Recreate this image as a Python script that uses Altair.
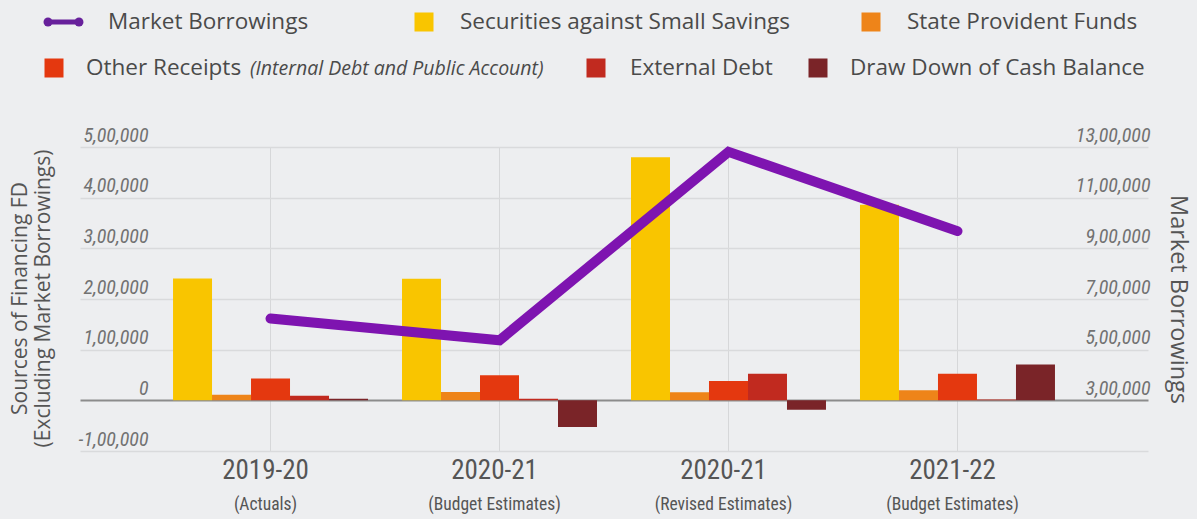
import altair as alt
import pandas as pd

# ---------------- data ----------------
years = ["2019-20", "2020-21", "2020-21", "2021-22"]
stages = ["(Actuals)", "(Budget Estimates)", "(Revised Estimates)", "(Budget Estimates)"]
series = ["Securities against Small Savings", "State Provident Funds", "Other Receipts",
          "External Debt", "Draw Down of Cash Balance"]
securities = [240500, 240000, 480000, 386000]
provident = [11000, 16500, 16000, 19800]
other_receipts = [43000, 49400, 38000, 52700]
external_debt = [9000, 3000, 52700, 1500]
cash_drawdown = [3000, -52700, -18400, 70500]
market_borrowings = [623000, 537000, 1281000, 968000]
left_ticks = [-100000, 0, 100000, 200000, 300000, 400000, 500000]
right_ticks = [300000, 500000, 700000, 900000, 1100000, 1300000]
bar_colors = ["#F9C500", "#EE8419", "#E4380F", "#C12A1F", "#7A2428"]
line_color = "#7E14B0"
legend_line_color = "#67209B"
legend_note = "(Internal Debt and Public Account)"

# ---------------- layout (pixels, relative to plot origin) ----------------
W, H = 1068, 304
row1_y, row2_y = -125, -79
legend_square_x = [344, 791, -26, 516, 738]
legend_square_y = [row1_y, row1_y, row2_y, row2_y, row2_y]
legend_text_x = [380, 827, 6, 550, 770]
legend_line_x = [-32, -1]
legend_mb_text_x = 28
legend_note_x = 170

LBL = "Roboto Condensed, Noto Sans Condensed, Liberation Sans Narrow, DejaVu Sans Condensed, Roboto"
TXT = "Open Sans"

keys = [f"{y} {s}" for y, s in zip(years, stages)]
cat_df = pd.DataFrame({"cat": keys, "year": years, "stage": stages, "mb": market_borrowings})

vals = [securities, provident, other_receipts, external_debt, cash_drawdown]
rows = []
for s, v in zip(series, vals):
    for k, x in zip(keys, v):
        rows.append({"cat": k, "series": s, "value": x})
bar_df = pd.DataFrame(rows)

indian = ("(datum.value < 0 ? '-' : '') + (datum.value == 0 ? '0' : "
          "format(abs(datum.value) / 100000, 'd') + ',00,000')")

x_enc = alt.X(
    "cat:N", sort=keys, title=None,
    scale=alt.Scale(paddingInner=0, paddingOuter=0.332),
    axis=alt.Axis(grid=True, bandPosition=0.5, gridColor="#D6D7D9", domain=False, ticks=False,
                  labelExpr="substring(datum.label, 0, indexof(datum.label, ' ('))",
                  labelFont=LBL, labelFontSize=27, labelColor="#555555", labelAngle=0,
                  labelBaseline="alphabetic", labelPadding=27, labelOffset=-5),
)

bars = alt.Chart(bar_df).mark_bar().encode(
    x=x_enc,
    xOffset=alt.XOffset("series:N", sort=series,
                        scale=alt.Scale(domain=series, paddingInner=0, paddingOuter=0.436)),
    y=alt.Y("value:Q",
            scale=alt.Scale(domain=[-100000, 500000], nice=False),
            axis=alt.Axis(values=left_ticks, labelExpr=indian, grid=True,
                          gridColor={"condition": {"test": "datum.value === 0", "value": "#8C8C8C"},
                                     "value": "#D9DADC"},
                          gridWidth={"condition": {"test": "datum.value === 0", "value": 2},
                                     "value": 1.5},
                          domain=False, ticks=False, tickSize=0,
                          labelFont=LBL, labelFontSize=20, labelFontStyle="italic",
                          labelColor="#727272", labelAlign="right", labelPadding=-68,
                          labelBaseline="alphabetic", labelOffset=-6,
                          title=["Sources of Financing FD", "(Excluding Market Borrowings)"],
                          titleFont=TXT, titleFontSize=21, titleFontWeight="normal",
                          titleColor="#555555", titleLineHeight=23, titleAngle=-90,
                          titleAlign="center", titleBaseline="middle", titleX=-60, titleY=151)),
    color=alt.Color("series:N", scale=alt.Scale(domain=series, range=bar_colors), legend=None),
)

line = alt.Chart(cat_df).mark_line(strokeWidth=10, color=line_color, strokeCap="round",
                                   strokeJoin="miter").encode(
    x=x_enc,
    y=alt.Y("mb:Q",
            scale=alt.Scale(domain=[100000, 1300000], nice=False, zero=False),
            axis=alt.Axis(orient="right", values=right_ticks, labelExpr=indian, grid=False,
                          domain=False, ticks=False, tickSize=0,
                          labelFont=LBL, labelFontSize=20, labelFontStyle="italic",
                          labelColor="#727272", labelAlign="right", labelPadding=2,
                          labelBaseline="alphabetic", labelOffset=-6,
                          title="Market Borrowings", titleFont=TXT, titleFontSize=23.5,
                          titleFontWeight="normal", titleColor="#555555", titleAngle=90,
                          titleAlign="center", titleBaseline="middle", titleX=29, titleY=H / 2)),
)

sub_labels = alt.Chart(cat_df).mark_text(font=LBL, fontSize=17.5, color="#555555",
                                         baseline="alphabetic", dx=-5).encode(
    x=x_enc, y=alt.value(H + 59), text="stage:N")

# ---------------- legend ----------------
leg_df = pd.DataFrame({"label": series, "color": bar_colors,
                       "sx": legend_square_x, "sy": legend_square_y, "tx": legend_text_x})
leg_squares = alt.Chart(leg_df).mark_square(size=361, opacity=1).encode(
    x=alt.X("sx:Q", scale=None, axis=None),
    y=alt.Y("sy:Q", scale=None, axis=None),
    color=alt.Color("color:N", scale=None),
)
leg_texts = alt.Chart(leg_df).mark_text(font=TXT, fontSize=22.5, color="#4A4A4A", align="left",
                                        baseline="middle").encode(
    x=alt.X("tx:Q", scale=None, axis=None),
    y=alt.Y("sy:Q", scale=None, axis=None),
    text="label:N",
)
mb_df = pd.DataFrame({"lx": legend_line_x, "ly": [row1_y, row1_y], "label": ["Market Borrowings"] * 2})
leg_line = alt.Chart(mb_df).mark_line(strokeWidth=5, color=legend_line_color).encode(
    x=alt.X("lx:Q", scale=None, axis=None), y=alt.Y("ly:Q", scale=None, axis=None))
leg_dots = alt.Chart(mb_df).mark_circle(size=80, color=legend_line_color, opacity=1).encode(
    x=alt.X("lx:Q", scale=None, axis=None), y=alt.Y("ly:Q", scale=None, axis=None))
leg_mb = alt.Chart(mb_df.head(1)).mark_text(font=TXT, fontSize=22.5, color="#4A4A4A", align="left",
                                            baseline="middle").encode(
    x=alt.value(legend_mb_text_x), y=alt.value(row1_y), text="label:N")
note_df = pd.DataFrame({"label": [legend_note]})
leg_note = alt.Chart(note_df).mark_text(font=TXT, fontSize=19.5, fontStyle="italic",
                                        color="#4A4A4A", align="left", baseline="middle").encode(
    x=alt.value(legend_note_x), y=alt.value(row2_y + 1), text="label:N")

chart = alt.layer(
    bars, line, sub_labels, leg_squares, leg_texts, leg_line, leg_dots, leg_mb, leg_note
).resolve_scale(y="independent").properties(
    width=W, height=H,
    autosize=alt.AutoSizeParams(type="none"),
    padding={"left": 80, "top": 147, "right": 49, "bottom": 68},
    background="#EDEEF0",
).configure_view(stroke=None)

chart.save("out.html", embed_options={"renderer": "svg", "actions": False})
